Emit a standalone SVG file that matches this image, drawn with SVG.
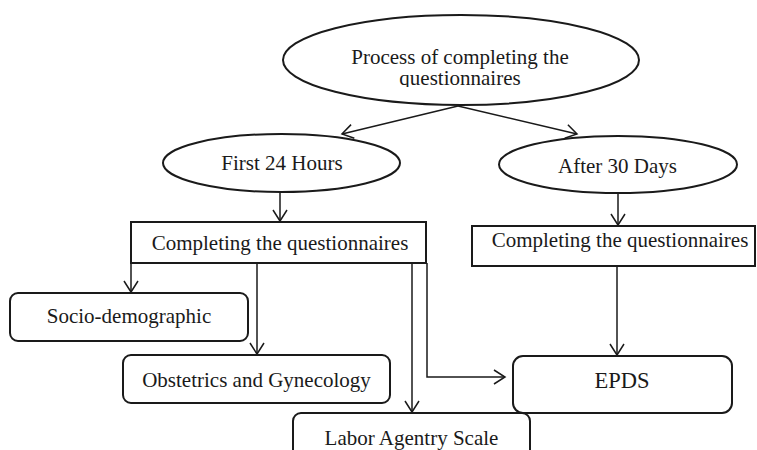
<svg xmlns="http://www.w3.org/2000/svg" width="757" height="450" viewBox="0 0 757 450">
  <style>
    .shape { fill: #ffffff; stroke: #1a1a1a; stroke-width: 2; }
    .label { font-family: "Liberation Serif", "Times New Roman", serif; font-size: 21px; fill: #1a1a1a; text-anchor: middle; }
    .big { font-size: 22.5px; }
    .link { fill: none; stroke: #1a1a1a; stroke-width: 1.5; }
  </style>
  <defs>
    <marker id="open-arrow" markerUnits="userSpaceOnUse" markerWidth="16" markerHeight="20" viewBox="-14 -10 16 20" refX="0" refY="0" orient="auto">
      <path d="M -11 -7 L 0 0 L -11 7" fill="none" stroke="#1a1a1a" stroke-width="1.5"/>
    </marker>
    <clipPath id="title-clip">
      <rect x="280" y="20" width="360" height="67"/>
    </clipPath>
  </defs>

  <rect width="757" height="450" fill="#ffffff"/>

  <g id="connectors">
    <line class="link" x1="458" y1="106" x2="342" y2="134" marker-end="url(#open-arrow)"/>
    <line class="link" x1="458" y1="106" x2="577" y2="134" marker-end="url(#open-arrow)"/>
    <line class="link" x1="280" y1="192" x2="280" y2="221" marker-end="url(#open-arrow)"/>
    <line class="link" x1="618" y1="193" x2="618" y2="225" marker-end="url(#open-arrow)"/>
    <line class="link" x1="131" y1="263" x2="131" y2="292" marker-end="url(#open-arrow)"/>
    <line class="link" x1="257" y1="263" x2="257" y2="354" marker-end="url(#open-arrow)"/>
    <line class="link" x1="412" y1="263" x2="412" y2="412" marker-end="url(#open-arrow)"/>
    <polyline class="link" points="427,263 427,377 505,377" marker-end="url(#open-arrow)"/>
    <line class="link" x1="617" y1="266" x2="617" y2="355" marker-end="url(#open-arrow)"/>
  </g>

  <g id="process">
    <ellipse class="shape" cx="461" cy="60" rx="178" ry="45"/>
    <g clip-path="url(#title-clip)">
      <text class="label" x="460" y="64">Process of completing the</text>
      <text class="label" x="460" y="85">questionnaires</text>
    </g>
  </g>

  <g id="first-24-hours">
    <ellipse class="shape" cx="281.5" cy="163" rx="118.5" ry="29"/>
    <text class="label" x="282" y="170">First 24 Hours</text>
  </g>

  <g id="after-30-days">
    <ellipse class="shape" cx="618" cy="164.5" rx="119" ry="28.5"/>
    <text class="label" x="617.5" y="173">After 30 Days</text>
  </g>

  <g id="completing-left">
    <rect class="shape" x="131" y="222" width="295" height="41"/>
    <text class="label" x="280" y="250">Completing the questionnaires</text>
  </g>

  <g id="completing-right">
    <rect class="shape" x="472" y="226" width="283" height="40"/>
    <text class="label" x="620" y="247">Completing the questionnaires</text>
  </g>

  <g id="socio-demographic">
    <rect class="shape" x="10" y="293" width="238" height="48" rx="8"/>
    <text class="label" x="129" y="323">Socio-demographic</text>
  </g>

  <g id="obstetrics">
    <rect class="shape" x="123" y="355" width="267" height="48" rx="8"/>
    <text class="label" x="256.5" y="387">Obstetrics and Gynecology</text>
  </g>

  <g id="labor-agentry">
    <rect class="shape" x="293" y="413" width="237" height="60" rx="8"/>
    <text class="label" x="411.5" y="445">Labor Agentry Scale</text>
  </g>

  <g id="epds">
    <rect class="shape" x="513" y="356" width="219" height="57" rx="10"/>
    <text class="label big" x="622" y="388">EPDS</text>
  </g>
</svg>
